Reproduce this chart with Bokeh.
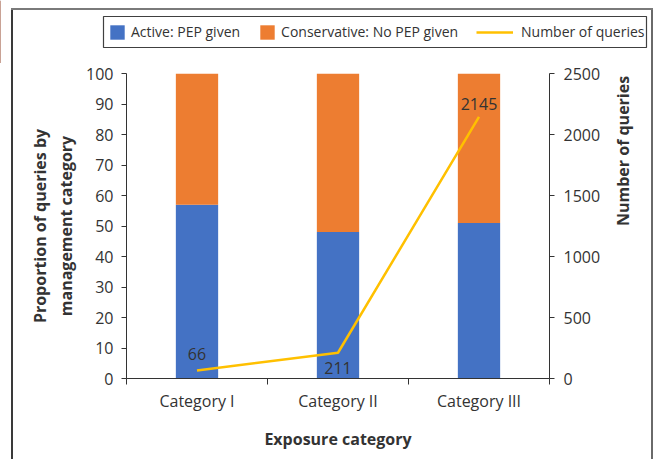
import math
from bokeh.plotting import figure
from bokeh.models import (Range1d, LinearAxis, FixedTicker, Legend, LegendItem,
                          LabelSet, ColumnDataSource, BoxAnnotation)
from bokeh.core.properties import value
from bokeh.embed import file_html
from bokeh.resources import INLINE

categories = ["Category I", "Category II", "Category III"]
active_pct = [57, 48, 51]
conservative_pct = [43, 52, 49]
queries = [66, 211, 2145]
left_ticks = [0, 10, 20, 30, 40, 50, 60, 70, 80, 90, 100]
right_ticks = [0, 500, 1000, 1500, 2000, 2500]

FONT = "Open Sans"
TXT = "#333333"
BLUE = "#4472C4"
ORANGE = "#ED7D31"
GOLD = "#FFC000"

x = [i + 0.5 for i in range(len(categories))]
bounds = [float(i) for i in range(len(categories) + 1)]
label_dy = [16, -15, 13]

src = ColumnDataSource(dict(
    x=x, active=active_pct, cons=conservative_pct, q=queries,
    qlabel=[str(v) for v in queries], dy=label_dy,
))

W = 655
TOP_H = 63


def bar(color, x0, y0, w, h):
    return f"linear-gradient({color}, {color}) {x0} {y0} / {w} {h} no-repeat"


LEFT_EDGE = bar("#3a3a3a", "11px", "8px", "2px", "100%")
TOP_EDGE = bar("#7a7a7a", "11px", "8px", "642px", "2px")
RIGHT_EDGE = bar("#6a6a6a", "651px", "8px", "2px", "100%")

# ---------- legend strip (frame = whole canvas) ----------
top = figure(width=W, height=TOP_H, x_range=Range1d(0, 1), y_range=Range1d(0, 1),
             output_backend="svg", toolbar_location=None, x_axis_location=None,
             y_axis_location=None, min_border=0)
top.border_fill_color = None
top.background_fill_color = None
top.styles = {"background": ", ".join([TOP_EDGE, LEFT_EDGE, RIGHT_EDGE])}
top.outline_line_color = None
top.grid.visible = False
proxy = ColumnDataSource(dict(x=[-10.0, -9.0], top=[1.0, 1.0], y=[0.0, 0.0]))
pa = top.vbar(x="x", top="top", width=0.3, fill_color=BLUE, line_color=None, source=proxy)
pc = top.vbar(x="x", top="top", width=0.3, fill_color=ORANGE, line_color=None, source=proxy)
pl = top.line(x="x", y="y", line_color=GOLD, line_width=2.5, source=proxy)

box = BoxAnnotation(left=103, right=646, bottom=16, top=47,
                    left_units="screen", right_units="screen",
                    bottom_units="screen", top_units="screen",
                    fill_alpha=0, line_color="#404040", line_width=1.2, line_alpha=1)
top.add_layout(box)

common = dict(orientation="horizontal", label_text_font=FONT, label_text_font_size="14px",
              label_text_color=TXT, border_line_color=None, background_fill_alpha=0,
              padding=5, margin=0, glyph_height=18, label_height=18)
legA = Legend(items=[LegendItem(label="Active: PEP given", renderers=[pa]),
                     LegendItem(label="Conservative: No PEP given", renderers=[pc])],
              location=(108, 22), glyph_width=18, label_standoff=5, spacing=18, **common)
legB = Legend(items=[LegendItem(label="Number of queries", renderers=[pl])],
              location=(476, 22), glyph_width=37, label_standoff=8, spacing=0, **common)
top.add_layout(legA)
top.add_layout(legB)

# ---------- chart ----------
p = figure(width=W, height=459 - TOP_H, x_range=Range1d(0, len(categories)),
           y_range=Range1d(0, 100), output_backend="svg", toolbar_location=None,
           min_border_left=126, min_border_right=106, min_border_top=10,
           min_border_bottom=81)
p.border_fill_color = None
p.background_fill_color = None
p.styles = {"background": ", ".join([bar("#3a3a3a", "11px", "0px", "2px", "100%"),
                                     bar("#6a6a6a", "651px", "0px", "2px", "100%")])}
p.outline_line_color = None
p.xgrid.visible = False
p.ygrid.visible = False
p.extra_y_ranges = {"queries": Range1d(0, 2500)}

bars = p.vbar_stack(["active", "cons"], x="x", width=0.3, color=[BLUE, ORANGE],
                    line_color=None, source=src)
line = p.line("x", "q", y_range_name="queries", line_color=GOLD, line_width=2.5,
              source=src)

labels = LabelSet(x="x", y="q", text="qlabel", y_range_name="queries", y_offset="dy",
                  text_align="center", text_baseline="middle", text_font=value(FONT),
                  text_font_size="16px", text_color=TXT, source=src)
p.add_layout(labels)


def style_axis(ax):
    ax.axis_line_color = TXT
    ax.major_tick_line_color = TXT
    ax.major_tick_in = 0
    ax.major_tick_out = 5
    ax.minor_tick_line_color = None
    ax.major_label_text_font = FONT
    ax.major_label_text_font_size = "16px"
    ax.major_label_text_color = TXT
    ax.axis_label_text_font = FONT
    ax.axis_label_text_font_size = "16px"
    ax.axis_label_text_font_style = "bold"
    ax.axis_label_text_color = TXT


ya = p.yaxis[0]
style_axis(ya)
ya.ticker = FixedTicker(ticks=left_ticks)
ya.major_label_standoff = 8
ya.axis_label = "Proportion of queries by\nmanagement category"
ya.axis_label_standoff = 6
ya.axis_label_text_line_height = 1.2

yr = LinearAxis(y_range_name="queries", ticker=FixedTicker(ticks=right_ticks))
style_axis(yr)
yr.major_label_standoff = 9
yr.axis_label = "Number of queries"
yr.axis_label_standoff = 20
yr.axis_label_orientation = math.pi / 2
p.add_layout(yr, "right")

xa = p.xaxis[0]
style_axis(xa)
xa.ticker = FixedTicker(ticks=x, minor_ticks=bounds)
xa.major_label_overrides = {xi: c for xi, c in zip(x, categories)}
xa.major_tick_line_color = None
xa.major_tick_out = 0
xa.minor_tick_line_color = TXT
xa.minor_tick_in = 0
xa.minor_tick_out = 6
xa.major_label_standoff = 5
xa.axis_label = "Exposure category"
xa.axis_label_standoff = 13

open("out.html", "w").write(file_html([top, p], INLINE))
